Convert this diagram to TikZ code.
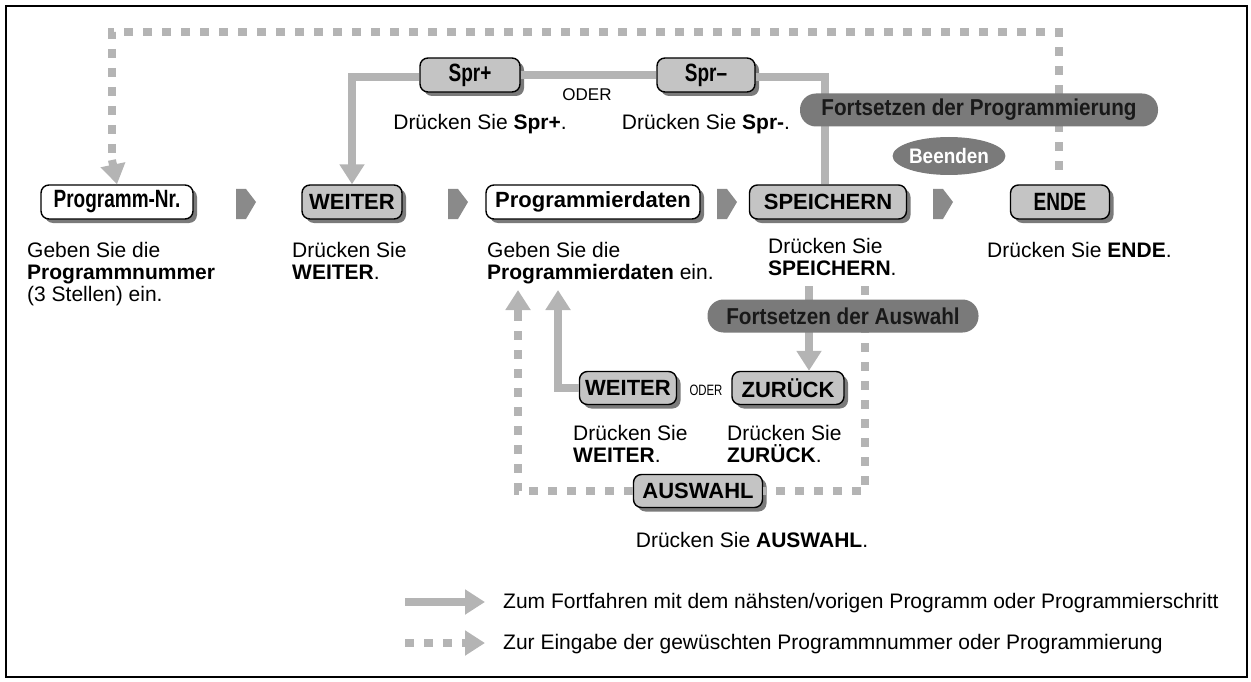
\documentclass[tikz,border=0pt]{standalone}
\usepackage{fontspec}
\setmainfont{Liberation Sans}
\newfontfamily\cond[FakeStretch=0.76]{Liberation Sans}
\newfontfamily\semi[FakeStretch=0.9]{Liberation Sans}
\usetikzlibrary{arrows.meta,shadows,shapes.geometric}
\definecolor{lg}{HTML}{B4B4B4}
\definecolor{bx}{HTML}{C4C4C4}
\definecolor{dk}{HTML}{7A7A7A}
\definecolor{ch}{HTML}{8A8A8A}
\begin{document}
\begin{tikzpicture}[x=1pt,y=-1pt,
 key/.style={draw=black,line width=1.4pt,rounded corners=8pt,fill=bx,minimum height=34pt,inner xsep=5pt,font=\bfseries\fontsize{22}{22}\selectfont,drop shadow={shadow xshift=4pt,shadow yshift=-4pt,fill=dk,opacity=1}},
 ckey/.style={key,font=\cond\bfseries\fontsize{25}{25}\selectfont},
 wkey/.style={drop shadow={opacity=0},fill=white},
 pill/.style={fill=dk,rounded corners=16pt,minimum height=33pt,inner xsep=10pt,font=\semi\bfseries\fontsize{23}{23}\selectfont,text=black!90},
 desc/.style={align=left,anchor=north west,font=\fontsize{21}{22}\selectfont,inner sep=0pt},
 sol/.style={draw=lg,line width=8pt},
 dsh/.style={draw=lg,line width=8pt,dash pattern=on 9pt off 10pt},
 tip/.style={-{Triangle[width=24pt,length=20pt]}},
 chev/.style={fill=ch,draw=none}
]
\useasboundingbox (0,0) rectangle (1251,682);
\draw[line width=1.6pt] (6,6) rectangle (1247,677);

% row nodes
\node[ckey,wkey,minimum width=152pt] (pn) at (117,202) {Programm-Nr.};
\node[key,minimum width=100pt] (w1) at (352,202) {WEITER};
\node[key,wkey,minimum width=214pt] (pd) at (593,202) {Programmierdaten};
\node[key,minimum width=157pt] (sp) at (828,202) {SPEICHERN};
\node[ckey,minimum width=99pt] (en) at (1060,202) {ENDE};
\node[ckey,minimum width=100pt] (sa) at (470,75) {Spr+};
\node[ckey,minimum width=98pt] (sm) at (706,75) {Spr\textendash};
\node[key,minimum width=97pt,minimum height=33pt] (w2) at (628,388) {WEITER};
\node[key,minimum width=112pt,minimum height=33pt] (zu) at (788,388) {ZUR\"UCK};
\node[key,minimum width=129pt,minimum height=33pt] (au) at (698,491) {AUSWAHL};

% chevrons
\foreach \cx in {236,448,717,933}{
 \fill[chev] (\cx,189) -- (\cx+10,189) -- (\cx+20,202) -- (\cx+10,219) -- (\cx,219) -- cycle;
}

% top dashed loop
\coordinate (tl) at (112,32); \coordinate (tr) at (1059,32);
\draw[dsh] (1059,170) -- (tr) -- (tl) -- (112,160);
\draw[sol,tip] (112,160) -- (pn.north);

% solid Spr line
\coordinate (sl) at (352,77); \coordinate (sr) at (825,77);
\draw[sol] (sa) -- (sm);
\draw[sol] (sm.east |- sr) -- (sr) -- (sp.north -| sr);
\draw[sol,tip] (sa.west |- sl) -- (sl) -- (w1.north);

\node[font=\fontsize{17}{17}\selectfont] (o1) at (587,95) {ODER};
\node[font=\fontsize{21}{21}\selectfont] (d1) at (480,124) {Dr\"ucken Sie \textbf{Spr+}.};
\node[font=\fontsize{21}{21}\selectfont] (d2) at (706,124) {Dr\"ucken Sie \textbf{Spr-}.};

\node[pill,minimum width=358pt] (fp) at (979,110) {Fortsetzen der Programmierung};
\node[ellipse,fill=dk,minimum width=108pt,minimum height=38pt,inner sep=0pt,text=white,font=\semi\bfseries\fontsize{21}{21}\selectfont] (be) at (949,156) {Beenden};

% descriptions
\node[desc] (t1) at (27,242) {Geben Sie die\\\textbf{Programmnummer}\\(3 Stellen) ein.};
\node[desc] (t2) at (292,242) {Dr\"ucken Sie\\\textbf{WEITER}.};
\node[desc] (t3) at (487,242) {Geben Sie die\\\textbf{Programmierdaten} ein.};
\node[desc] (t4) at (768,238) {Dr\"ucken Sie\\\textbf{SPEICHERN}.};
\node[desc] (t5) at (987,242) {Dr\"ucken Sie \textbf{ENDE}.};

% lower loop
\coordinate (s1) at (809,286);
\coordinate (dv) at (865,286); \coordinate (dbr) at (865,491); \coordinate (dbl) at (518,491);
\draw[dsh] (dv) -- (dbr) -- (au.east);
\draw[dsh] (au.west) -- (dbl) -- (518,312);
\draw[sol,tip] (518,312) -- (518,290);
\draw[sol,tip] (s1) -- (zu.north -| s1);
\coordinate (wl) at (558,388);
\draw[sol,tip] (w2.west) -- (wl) -- (558,290);
\node[pill,minimum width=271pt] (fa) at (843,316) {Fortsetzen der Auswahl};

\node[font=\cond\fontsize{15}{15}\selectfont,inner sep=0pt] (o2) at (706,390) {ODER};
\node[desc] (t6) at (573,425) {Dr\"ucken Sie\\\textbf{WEITER}.};
\node[desc] (t7) at (727,425) {Dr\"ucken Sie\\\textbf{ZUR\"UCK}.};
\node[font=\fontsize{21}{21}\selectfont] (t8) at (752,540) {Dr\"ucken Sie \textbf{AUSWAHL}.};

% legend
\coordinate (l1a) at (405,602); \coordinate (l1b) at (485,602);
\coordinate (l2a) at (405,643); \coordinate (l2b) at (485,643);
\draw[sol,tip] (l1a) -- (l1b);
\draw[dsh] (l2a) -- (462,643);
\draw[sol,tip] (462,643) -- (l2b);
\node[anchor=west,inner sep=0pt,font=\fontsize{21}{21}\selectfont] (g1) at (503,603) {Zum Fortfahren mit dem n\"ahsten/vorigen Programm oder Programmierschritt};
\node[anchor=west,inner sep=0pt,font=\fontsize{21}{21}\selectfont] (g2) at (503,644) {Zur Eingabe der gew\"uschten Programmnummer oder Programmierung};
\end{tikzpicture}
\end{document}
